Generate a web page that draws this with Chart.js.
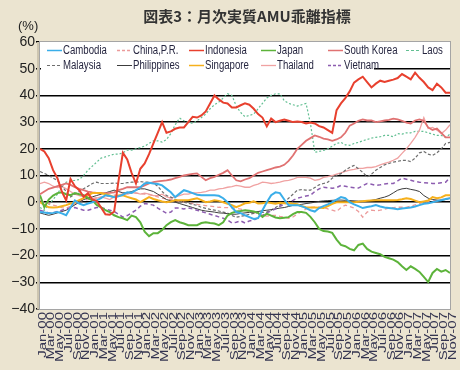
<!DOCTYPE html>
<html lang="ja">
<head>
<meta charset="UTF-8">
<title>図表3：月次実質AMU乖離指標</title>
<script src="https://cdn.jsdelivr.net/npm/chart.js"></script>
<style>
  body { margin: 0; background: #ebe4d0; }
  #wrap { width: 460px; height: 370px; }
</style>
</head>
<body>
<div id="wrap"><canvas id="amuChart" width="460" height="370"></canvas></div>
<script>
// 月ラベル Jan-00 .. Nov-07
const monthNames = ['Jan','Feb','Mar','Apr','May','Jun','Jul','Aug','Sep','Oct','Nov','Dec'];
const years = ['00','01','02','03','04','05','06','07'];
const labels = [];
years.forEach(function (y) {
    monthNames.forEach(function (m) { labels.push(m + '-' + y); });
});
labels.length = 95; // 最後は Nov-07

const yTicks = [-40, -30, -20, -10, 0, 10, 20, 30, 40, 50, 60];
const chartTitle = '図表3：月次実質AMU乖離指標';

const cambodia = [
    -3.7,-3.9,-4.1,-4,-3.7,-4.2,-4.9,-2,0.7,-0.5,
    -1.1,-0.5,0,0.7,1.5,2.6,2.3,1.9,2.2,2.8,
    3.7,3.5,4.5,5.6,7,7.3,7,6.8,6.3,5,
    3.7,1.9,3.2,4.5,4,3.4,2.8,2.6,2.6,2.6,
    2.6,2.4,1.5,0,-1.9,-3.7,-4.1,-4.9,-5.6,-6.3,
    -6,-3,0,2.6,3.7,3.4,1,-1.1,-1.1,-1.1,
    -1.5,-2.2,-3,-3.5,-2.2,-1.5,-0.8,0,1,1.9,
    1.5,0,-0.8,-1.5,-2.2,-1.8,-1.5,-1.1,-1.6,-2,
    -2.2,-2.4,-2.6,-2.4,-2.2,-2,-1.6,-1.1,-0.6,-0.4,
    0,0.4,0.7,1.2,1.5
];
const china = [
    0.7,0,-0.5,-1.1,-1.5,-2,-2.2,-1.5,-0.5,0.2,
    0.7,1,1.4,1.7,1.9,2.1,2.3,2.6,2.8,3,
    3.2,3.4,3.4,3.2,3,2.8,2.5,2,1.5,1.2,
    1,0.6,0.3,0,-0.2,-0.5,-0.8,-1.1,-1.3,-1.5,
    -1.7,-1.9,-2,-2,-2.1,-2.2,-2.6,-3,-3.5,-4,
    -4.5,-4.9,-5.2,-5,-4.9,-5.3,-5.6,-6,-5.5,-4.5,
    -3.5,-2.5,-2,-1.9,-1.9,-1.9,-2.5,-3,-3.5,-2,
    -1.1,-1.6,-2.2,-3.5,-5.6,-3.7,-3,-3.2,-3,-2.6,
    -2.2,-2,-1.9,-1.9,-1.9,-1.5,-1,-0.5,0,0.3,
    0.5,0.7,1,1.2,1.5
];
const indonesia = [
    20,19,16.5,12,9,4,0.7,8.7,6,4.5,
    2,3.4,1,0.5,-2,-4.5,-4.7,-3.5,8,18.5,
    16,11,7,12.5,14.5,18,22,26,30,26,
    26.5,27.5,28,28,30,32,31.7,32.5,34,37,
    40,38.5,37.3,37,35.5,35.5,36.3,37,36.5,35,
    33,31.7,28.4,31.3,30,30.5,31,30.5,30,30.2,
    30,29.5,29.8,29.5,28.5,28,27,26,34.5,37,
    39,41.5,44.8,46,47,45,43,44.4,45.5,45,
    45.5,45.9,46.5,48,47,46,48.5,46.6,45,43,
    42,44.4,43,41,41
];
const japan = [
    2.6,-1.9,1,2.5,3.4,3.7,3,2.6,3.4,3,
    2.6,1.5,0.7,-1,-1.9,-3,-3.7,-4.9,-5.6,-6,
    -6.7,-5,-5.6,-7.5,-11,-12.7,-11.6,-11.6,-10.4,-8.6,
    -7.5,-6.7,-7.5,-8,-8.6,-8.6,-8.6,-7.8,-7.5,-7.8,
    -8,-8.6,-7.5,-5,-4,-3.5,-3.3,-3,-3.2,-3.5,
    -4,-5.5,-4.3,-5,-5.7,-6,-5.8,-5.6,-4.5,-3.7,
    -3.7,-4,-5.5,-7.5,-10,-10.8,-11,-11.5,-14,-16,
    -16.5,-17.5,-18,-16,-15.5,-17.5,-18.5,-19,-19.5,-20.5,
    -21,-21.5,-22.4,-24,-25.4,-24,-25,-26.1,-28,-29.9,
    -26.5,-25,-26,-25.4,-26.5
];
const southKorea = [
    3,4,5,5.5,6,6.5,7,6.5,5.6,5,
    4.5,4,3.7,3.5,3.4,3.4,3.5,3.7,4.5,5,
    5.6,5.6,5.6,5.6,6.3,7,7.5,7.8,8,8.2,
    8.5,9,9.5,10,10.3,10.6,10.8,9.5,8.2,9,
    9.5,10.3,11,12,10,8.2,7.8,8.5,9,10,
    11,11.5,12,12.5,13,13.3,14,15.5,17.5,20,
    21.5,23,24,25,24.5,23.8,23.5,23,23.5,24.3,
    26,28.7,29.5,30.5,31,30.6,30.6,30,30.3,30.6,
    30.8,31.3,31,30.5,29.8,29.5,30.6,31,30.5,28,
    27,27.6,26,24.3,24.3
];
const laos = [
    -2,-3,-1,1,3,6,7.5,8,8.2,8.5,
    10,12,13.5,15,16.5,17,17.5,18,18,18.5,
    19.5,19.5,20,20.5,21,22,23,23,22.5,23.5,
    25.7,29,31.5,30.5,30,29.5,30.5,31.7,33,35,
    36.5,37.5,39,40.6,40,36,33.6,32,32.5,33,
    35,37,39,40,40.6,40.6,38,37,36.5,36,
    36.5,37,29.5,18.7,19,19.4,20,21,22,22.4,
    21.5,21.3,22,22.4,23,23.5,24,24.3,24.5,25,
    25,24.5,25.7,25.5,26,26,26.5,26.5,26.5,26,
    25.5,25,25,24.3,25.5
];
const malaysia = [
    11.5,10.8,10,9,8.2,6,4,2,3,4,
    5,6,7,7.5,7,7,7,7.2,7,7,
    7.3,7.5,7.5,7.7,7.5,7.5,7.2,6,4,2.5,
    1.9,1,0.5,0,-0.4,-0.8,-1.2,-1.9,-2.3,-2.7,
    -3,-3.3,-3.7,-4.1,-5,-5.6,-5.3,-5,-4.5,-4.2,
    -4,-3.8,-3.7,-3,-2,-1,0,1.5,3,4.5,
    4.7,4.5,4.5,5.5,6.5,7,7.5,9,10,10.7,
    12,13,13.8,12.5,11.2,9.5,10.5,12,13,14,
    14.5,15,15.3,15.7,15.7,15.2,16.5,18.5,19,18,
    17.5,18.5,20,22,22.4
];
const philippines = [
    -4,-4.5,-4.9,-4.5,-4,-3.5,-3,-2,-1,0,
    1,1.5,2,2.5,3,3.5,4,4.5,4,3.5,
    3.5,4,4.5,5,5,4.5,4,3,2,1,
    0.5,0,-0.5,-1,-1.5,-2,-2.5,-3,-3.3,-3.5,
    -3.7,-4,-4.1,-4.3,-4.5,-4.5,-4.2,-4,-3.8,-3.7,
    -3.5,-3.2,-3,-2.8,-2.5,-2.2,-2,-1.6,-1.2,-1,
    -0.8,-0.5,-0.3,0,0.3,0.5,0.6,0.7,0.8,0.8,
    0.7,0.6,0.5,0.4,0.4,0.5,0.7,1,1.5,1.9,
    2.5,3.5,4.5,5,5.2,4.8,4.5,4,2.5,1.5,
    1,0.8,0.7,1,1.5
];
const singapore = [
    0,-1,-1.9,-2,-1.9,-1.5,-1.1,-0.5,0,0.8,
    1.5,2.6,3.4,3.4,3.4,3,2.5,1.9,2.5,2.6,
    2,1.5,1,0,1,1.9,1.2,0.7,0.3,0,
    0.3,0.7,0.7,0.7,0.7,1.1,1.5,0.8,0,0.3,
    0.7,0.5,0,-0.6,-1.1,-1.9,-1.2,-0.4,-0.2,0.3,
    -0.5,-0.4,0,-0.3,-0.6,-0.2,-0.4,-0.3,-0.6,-0.8,
    -1.5,-1.9,-2,-2,-2.1,-2.2,-1.5,-0.6,0,0,
    0,0,0,0.2,0.4,0.5,0.6,0.7,0.7,0.7,
    0.7,0.7,0.8,1.1,1.5,1.2,0.6,0,0.3,0.6,
    1.9,1.5,1.8,2.6,2.6
];
const thailand = [
    7,7.5,7,6,5.5,6,5,4,3,2.5,
    2,2,1,1.5,2,1.5,1,2,2.5,3,
    3,3.5,3.5,3,3.4,3,2.5,2.5,3,2,
    1.5,2,2.5,3,3,3.5,3.5,3.7,4,4.5,
    4.5,5,5.2,5.6,5.8,6.3,6,5.6,5.6,6.3,
    6.8,7.5,7.3,7,7.2,7.5,8,8.2,8.6,9.3,
    9.3,9.3,9,8.2,8.5,9.3,9.6,10,10.5,11,
    11.5,12,12.3,12.7,12.7,13,13,13.3,14,14.5,
    15,15.7,16.5,18.3,20,22,24.3,27,31.7,27.6,
    28,27,25.7,27,29
];
const vietnam = [
    -3,-3.5,-4,-4,-3.5,-3,-2.5,-2.2,-2,-2.5,
    -3,-3,-2.5,-2,-2,-2.5,-3,-3.5,-4.5,-5.6,
    -5,-4,-3,-1.5,-0.5,-0.8,-1.1,-2.2,-3.2,-4.1,
    -3.7,-2.2,-2.2,-2.5,-2.2,-2.5,-3,-3.5,-4,-4.5,
    -5,-5.5,-6,-6.7,-7.8,-7.5,-7,-7.8,-7,-6.7,
    -5.8,-4.9,-4,-3.3,-2.5,-1.5,-0.8,0,0.7,1.5,
    1.9,2.3,2.6,4,5,5.6,5.4,5.2,5.5,6.3,
    6,5.6,5.4,5.3,6.2,7,6.7,6.3,6.5,6.8,
    7,7,8,9,8.6,8.2,7.8,7.5,7.3,7.2,
    7,7,7.3,7.5,9.3
];

// 系列（凡例の並び順）
const series = [
    { name: 'Cambodia',    data: cambodia,    color: '#3aaee9', width: 2,   dash: [],     z: 1 },
    { name: 'China,P.R.',  data: china,       color: '#eb9a9a', width: 1.3, dash: [4, 3], z: 8 },
    { name: 'Indonesia',   data: indonesia,   color: '#e8402e', width: 2,   dash: [],     z: 0 },
    { name: 'Japan',       data: japan,       color: '#5cb33a', width: 2,   dash: [],     z: 2 },
    { name: 'South Korea', data: southKorea,  color: '#e07272', width: 1.8, dash: [],     z: 4 },
    { name: 'Laos',        data: laos,        color: '#62bf92', width: 1.2, dash: [2, 2], z: 10 },
    { name: 'Malaysia',    data: malaysia,    color: '#6e6e6e', width: 1.2, dash: [3, 2], z: 7 },
    { name: 'Philippines', data: philippines, color: '#3c3c3c', width: 1,   dash: [],     z: 6 },
    { name: 'Singapore',   data: singapore,   color: '#f6b01c', width: 2,   dash: [],     z: 3 },
    { name: 'Thailand',    data: thailand,    color: '#f0a2a2', width: 1.3, dash: [],     z: 9 },
    { name: 'Vietnam',     data: vietnam,     color: '#8d5db0', width: 1.5, dash: [4, 3], z: 5 }
];

// タイトル、プロット枠、凡例、x軸ラベル、(%) を描く
const decorPlugin = {
    id: 'decor',
    beforeDraw: function (chart) {
        const ctx = chart.ctx, a = chart.chartArea;
        ctx.save();
        ctx.fillStyle = '#ffffff';
        ctx.fillRect(a.left, a.top, a.right - a.left, a.bottom - a.top);
        ctx.restore();
    },
    afterDatasetsDraw: function (chart) {
        const ctx = chart.ctx, a = chart.chartArea;
        const cols = [47, 117, 189, 261, 328, 406];
        const rows = [50, 65];
        ctx.save();
        ctx.fillStyle = '#ffffff';
        ctx.fillRect(a.left + 1, a.top + 1, 333, 32);
        ctx.font = '12.5px "Liberation Sans", Arial, sans-serif';
        ctx.textBaseline = 'middle';
        ctx.textAlign = 'left';
        chart.data.datasets.forEach(function (ds, k) {
            const x = cols[k % 6], y = rows[Math.floor(k / 6)];
            ctx.strokeStyle = ds.borderColor;
            ctx.lineWidth = Math.min(ds.borderWidth, 1.5);
            ctx.setLineDash(ds.borderDash.length ? [3, 2] : []);
            ctx.beginPath();
            ctx.moveTo(x, y + 0.5);
            ctx.lineTo(x + 15, y + 0.5);
            ctx.stroke();
            ctx.setLineDash([]);
            ctx.fillStyle = '#262640';
            ctx.save();
            ctx.translate(x + 16, y + 1);
            ctx.scale(0.77, 1);
            ctx.fillText(ds.label, 0, 0);
            ctx.restore();
        });
        ctx.restore();
    },
    afterDraw: function (chart) {
        const ctx = chart.ctx, a = chart.chartArea;
        ctx.save();
        // タイトル
        ctx.fillStyle = '#333';
        ctx.font = 'bold 15px "Noto Sans CJK JP", sans-serif';
        ctx.textAlign = 'center';
        ctx.textBaseline = 'middle';
        ctx.fillText(chartTitle, 247, 16);
        // 枠
        ctx.strokeStyle = '#a5a5a5';
        ctx.lineWidth = 1;
        ctx.strokeRect(a.left - 0.5, a.top - 0.5, a.right - a.left + 1, a.bottom - a.top + 1);
        ctx.strokeStyle = '#cdc5b0';
        ctx.lineWidth = 2;
        ctx.beginPath();
        ctx.moveTo(a.left - 2, a.top);
        ctx.lineTo(a.left - 2, a.bottom);
        ctx.stroke();
        // (%)
        ctx.fillStyle = '#222';
        ctx.font = '13px "Liberation Sans", Arial, sans-serif';
        ctx.textAlign = 'left';
        ctx.fillText('(%)', 18, 26);
        // x軸ラベル（縦書き、2か月おき）
        const xs = chart.scales.x;
        ctx.font = '10px "Liberation Sans", Arial, sans-serif';
        ctx.fillStyle = '#343450';
        ctx.textAlign = 'right';
        chart.data.labels.forEach(function (lab, i) {
            if (i % 2) return;
            const x = xs.getPixelForValue(i);
            ctx.save();
            ctx.translate(x + 3, a.bottom + 3);
            ctx.rotate(-Math.PI / 2);
            ctx.scale(1.5, 1);
            ctx.fillText(lab, 0, 0);
            ctx.restore();
        });
        ctx.restore();
    }
};

const ctx = document.getElementById('amuChart').getContext('2d');
const amuChart = new Chart(ctx, {
    type: 'line',
    data: {
        labels: labels,
        datasets: series.map(function (s) {
            return {
                label: s.name,
                data: s.data,
                borderColor: s.color,
                backgroundColor: s.color,
                borderWidth: s.width,
                borderDash: s.dash,
                pointRadius: 0,
                tension: 0,
                fill: false,
                order: s.z
            };
        })
    },
    options: {
        responsive: false,
        devicePixelRatio: 1,
        animation: false,
        layout: { padding: { left: 0, right: 10, top: 42, bottom: 0 } },
        plugins: {
            legend: { display: false },
            tooltip: { enabled: false },
            title: { display: false }
        },
        scales: {
            x: {
                type: 'category',
                grid: { display: false },
                border: { display: false },
                ticks: { display: false, autoSkip: false },
                afterFit: function (s) { s.height = 61; }
            },
            y: {
                min: -40,
                max: 60,
                afterBuildTicks: function (s) {
                    s.ticks = yTicks.map(function (v) { return { value: v }; });
                },
                afterFit: function (s) { s.width = 40; },
                border: { display: false },
                grid: {
                    color: function (c) {
                        return (c.tick && (c.tick.value === 60 || c.tick.value === -40)) ? 'rgba(0,0,0,0)' : '#000';
                    },
                    lineWidth: 1.5,
                    tickLength: 4,
                    tickColor: '#000'
                },
                ticks: {
                    color: '#222',
                    padding: 1,
                    font: { family: '"Liberation Sans", Arial, sans-serif', size: 14 },
                    callback: function (v) {
                        return v < 0 ? '\u2212' + Math.abs(v) : String(v);
                    }
                }
            }
        }
    },
    plugins: [decorPlugin]
});
</script>
</body>
</html>
